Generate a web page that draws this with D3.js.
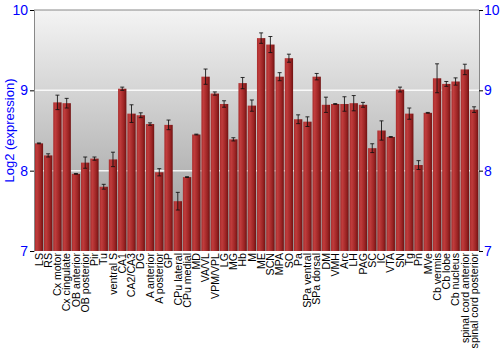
<!DOCTYPE html>
<html>
<head>
<meta charset="utf-8">
<script src="https://cdn.jsdelivr.net/npm/d3@7"></script>
<style>
  body { margin: 0; background: #fff; }
  text { font-family: "Liberation Sans", Arial, sans-serif; }
</style>
</head>
<body>
<div id="chart"></div>
<script>
// Regions, log2 expression and error (half-range)
const regions = ["LS", "RS", "Cx motor", "Cx cingulate", "OB anterior", "OB posterior", "Pir", "Tu",
  "ventral S", "CA1", "CA2/CA3", "DG", "A anterior", "A posterior", "GP", "CPu lateral", "CPu medial",
  "MD", "VA/VL", "VPM/VPL", "LG", "MG", "Hb", "M", "ME", "SCN", "MPA", "SO", "Pa", "SPa ventral",
  "SPa dorsal", "DM", "VMH", "Arc", "LH", "PAG", "SC", "IC", "VTA", "SN", "Tg", "Pn", "MVe",
  "Cb vermis", "Cb lobe", "Cb nucleus", "spinal cord anterior", "spinal cord posterior"];
const values = [8.34, 8.19, 8.85, 8.84, 7.96, 8.10, 8.15, 7.80, 8.14, 9.02, 8.71, 8.69, 8.58, 7.98,
  8.57, 7.62, 7.92, 8.45, 9.17, 8.96, 8.83, 8.39, 9.09, 8.81, 9.65, 9.57, 9.17, 9.40, 8.64, 8.61,
  9.17, 8.82, 8.83, 8.83, 8.84, 8.82, 8.28, 8.50, 8.42, 9.01, 8.71, 8.07, 8.72, 9.15, 9.08, 9.11,
  9.26, 8.76];
const errors = [0.005, 0.02, 0.09, 0.06, 0.005, 0.07, 0.02, 0.03, 0.09, 0.02, 0.11, 0.03, 0.015, 0.045,
  0.06, 0.11, 0.005, 0.005, 0.095, 0.02, 0.04, 0.02, 0.07, 0.07, 0.065, 0.10, 0.05, 0.05, 0.055, 0.06,
  0.04, 0.095, 0.005, 0.09, 0.095, 0.03, 0.055, 0.12, 0.005, 0.03, 0.07, 0.055, 0.005, 0.18, 0.03,
  0.045, 0.065, 0.035];
const yTicks = [7, 8, 9, 10];

const data = regions.map((r, i) => ({region: r, value: values[i], err: errors[i]}));

const margin = {top: 10, right: 21, bottom: 99, left: 34},
      width = 500 - margin.left - margin.right,
      height = 350 - margin.top - margin.bottom;

const svg = d3.select("#chart")
    .append("svg")
    .attr("width", 500)
    .attr("height", 350);

const defs = svg.append("defs");
const bg = defs.append("linearGradient").attr("id", "bg")
    .attr("x1", 0).attr("y1", 0).attr("x2", 0).attr("y2", 1);
bg.append("stop").attr("offset", "0%").attr("stop-color", "#f4f4f4");
bg.append("stop").attr("offset", "100%").attr("stop-color", "#979797");

const barGrad = defs.append("linearGradient").attr("id", "bar")
    .attr("x1", 0).attr("y1", 0).attr("x2", 1).attr("y2", 0);
barGrad.append("stop").attr("offset", "0%").attr("stop-color", "#a82c2c");
barGrad.append("stop").attr("offset", "25%").attr("stop-color", "#c03c3c");
barGrad.append("stop").attr("offset", "70%").attr("stop-color", "#9c2424");
barGrad.append("stop").attr("offset", "100%").attr("stop-color", "#701212");

const g = svg.append("g")
    .attr("transform", `translate(${margin.left},${margin.top})`);

// Scales
const x = d3.scaleBand()
    .domain(regions)
    .range([0, width])
    .paddingInner(0.1)
    .paddingOuter(0.08);

const y = d3.scaleLinear()
    .domain([7, 10])
    .range([height, 0]);

// Background
g.append("rect")
    .attr("width", width)
    .attr("height", height)
    .attr("fill", "url(#bg)");

// Grid lines
g.selectAll("line.grid")
    .data(yTicks.filter(t => t > 7 && t < 10))
    .enter().append("line")
    .attr("x1", 0).attr("x2", width)
    .attr("y1", d => y(d)).attr("y2", d => y(d))
    .attr("stroke", "#fff")
    .attr("stroke-opacity", 0.85)
    .attr("stroke-width", 1.5);

// Bars
g.selectAll("rect.bar")
    .data(data)
    .enter().append("rect")
    .attr("x", d => x(d.region))
    .attr("y", d => y(d.value))
    .attr("width", x.bandwidth())
    .attr("height", d => height - y(d.value))
    .attr("fill", "url(#bar)");

// Error bars
const cap = 2;
data.forEach(d => {
    const cx = x(d.region) + x.bandwidth() / 2;
    const e = g.append("g").attr("stroke", "#111").attr("stroke-opacity", 0.85);
    e.append("line")
        .attr("x1", cx).attr("x2", cx)
        .attr("y1", y(d.value - d.err)).attr("y2", y(d.value + d.err))
        .attr("stroke-width", 1);
    [d.value - d.err, d.value + d.err].forEach(v => {
        e.append("line")
            .attr("x1", cx - cap).attr("x2", cx + cap)
            .attr("y1", y(v)).attr("y2", y(v))
            .attr("stroke-width", 1);
    });
});

// Frame: top border in gray
g.append("line")
    .attr("x1", 0).attr("x2", width)
    .attr("y1", 0).attr("y2", 0)
    .attr("stroke", "#888");

// Axes
const leftAxis = g.append("g")
    .call(d3.axisLeft(y).tickValues(yTicks).tickFormat(d3.format("d")).tickSize(4).tickPadding(2));
const rightAxis = g.append("g")
    .attr("transform", `translate(${width},0)`)
    .call(d3.axisRight(y).tickValues(yTicks).tickFormat(d3.format("d")).tickSize(4).tickPadding(1));

[leftAxis, rightAxis].forEach(a => {
    a.select(".domain").attr("stroke", "#888");
    a.selectAll(".tick line").attr("stroke", "#000");
    a.selectAll(".tick text")
        .attr("fill", "#0000ff")
        .style("font-size", "14px");
});

// Category labels
const xAxis = g.append("g")
    .attr("transform", `translate(0,${height})`)
    .call(d3.axisBottom(x).tickSize(0));
xAxis.select(".domain").remove();
xAxis.selectAll("text")
    .attr("transform", "rotate(-90)")
    .attr("x", -2)
    .attr("y", 0)
    .attr("dy", "0.35em")
    .style("text-anchor", "end")
    .style("font-size", "10.6px")
    .attr("fill", "#000");

// Y-axis label
g.append("text")
    .attr("transform", "rotate(-90)")
    .attr("x", -height / 2)
    .attr("y", -margin.left + 14)
    .attr("text-anchor", "middle")
    .attr("fill", "#0000ff")
    .style("font-size", "13px")
    .text("Log2 (expression)");
</script>
</body>
</html>
